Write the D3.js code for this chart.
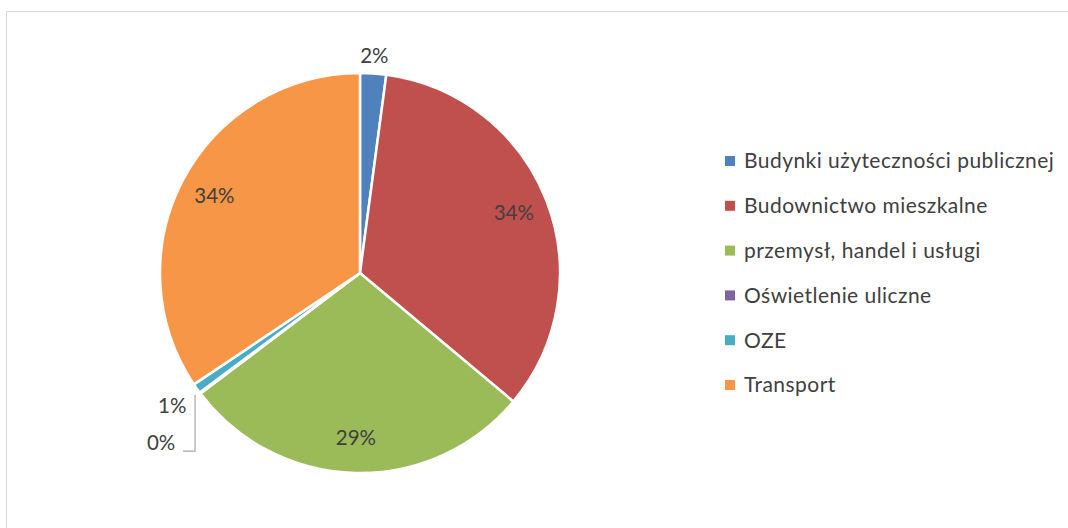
<!DOCTYPE html>
<html><head><meta charset="utf-8">
<script src="https://cdn.jsdelivr.net/npm/d3@7"></script>
<style>body{margin:0;background:#fff;}svg{display:block;font-family:Lato,"Noto Sans",sans-serif;}</style>
</head><body>
<svg id="c" width="1068" height="528"></svg>
<script>
const categories = ["Budynki użyteczności publicznej","Budownictwo mieszkalne","przemysł, handel i usługi","Oświetlenie uliczne","OZE","Transport"];
const values = [2.1, 34.0, 28.6, 0.1, 0.8, 34.4];
const labels = ["2%","34%","29%","0%","1%","34%"];
const colors = ["#4f81bd","#c0504d","#9bbb59","#8064a2","#4bacc6","#f79646"];

const svg = d3.select("#c");
svg.append("rect").attr("x",6.5).attr("y",11.5).attr("width",1100).attr("height",600)
  .attr("fill","#fff").attr("stroke","#d9d9d9").attr("stroke-width",1);

const cx = 360, cy = 273, R = 200;
const g = svg.append("g").attr("transform",`translate(${cx},${cy})`);
const pie = d3.pie().sort(null).value(d=>d)(values);
const arc = d3.arc().innerRadius(0).outerRadius(R);
g.selectAll("path.s").data(pie).join("path").attr("class","s")
  .attr("d",arc).attr("fill",(d,i)=>colors[i]).attr("stroke","#fff").attr("stroke-width",2.5).attr("stroke-linejoin","round");

const inArc = d3.arc().innerRadius(165).outerRadius(165);
const outArc = d3.arc().innerRadius(230).outerRadius(230);
const txtColor = "#404040";
const fs = 20.5;
pie.forEach((d,i)=>{
  let p, anchor="middle";
  if (values[i] >= 5) p = inArc.centroid(d);
  else if (i===0) p = d3.arc().innerRadius(218).outerRadius(218).centroid(d);
  else if (i===4) p = outArc.centroid(d);
  else {
    // Oświetlenie uliczne: collided label moved down with leader line
    const a = (d.startAngle+d.endAngle)/2;
    const ex = Math.sin(a)*R, ey = -Math.cos(a)*R;
    const ly = ey + 58;
    g.append("polyline").attr("points",`${ex-5},${ey+2} ${ex-5},${ly} ${ex-17},${ly}`)
      .attr("fill","none").attr("stroke","#a6a6a6").attr("stroke-width",1.2);
    p = [ex-39, ly-8];
  }
  g.append("text").attr("x",p[0]).attr("y",p[1]).attr("dy","0.35em").attr("text-anchor",anchor)
    .attr("font-size",fs).attr("fill",txtColor).text(labels[i]);
});

const leg = svg.append("g").attr("transform","translate(725,161)");
categories.forEach((c,i)=>{
  const row = leg.append("g").attr("transform",`translate(0,${i*44.8})`);
  row.append("rect").attr("x",0).attr("y",-5).attr("width",10).attr("height",10).attr("fill",colors[i]);
  row.append("text").attr("x",19).attr("y",0).attr("dy","0.35em").attr("font-size",21).attr("letter-spacing","0.45px").attr("fill",txtColor).text(c);
});
</script>
</body></html>
